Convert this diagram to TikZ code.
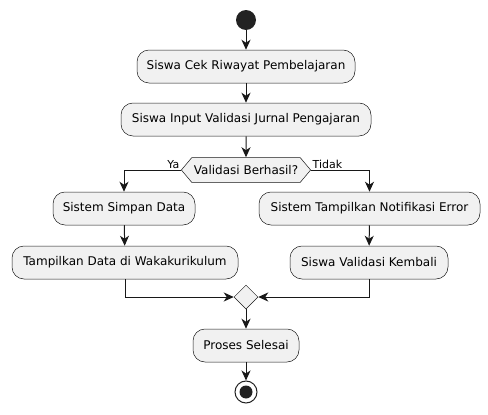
\documentclass[tikz,border=0pt]{standalone}
\usepackage{fontspec}
\setmainfont{DejaVu Sans}
\usetikzlibrary{arrows.meta, shapes.geometric, shapes.symbols}
\definecolor{boxfill}{HTML}{F1F1F1}
\definecolor{boxline}{HTML}{181818}
\definecolor{dotfill}{HTML}{222222}

\begin{document}
\begin{tikzpicture}[x=1pt, y=-1pt,
		act/.style={draw=boxline, fill=boxfill, rounded corners=12pt, line width=0.5pt,
			minimum height=33pt, inner xsep=0pt, font=\fontsize{12}{14}\selectfont},
		flow/.style={draw=boxline, line width=1pt, -{Stealth[length=10pt, width=9pt, inset=3pt]}},
		guard/.style={font=\fontsize{11}{13}\selectfont, inner sep=1.5pt}]
	\useasboundingbox (0,0) rectangle (488,415);
	% start and activities
	\node[circle, fill=dotfill, minimum size=20pt, inner sep=0pt] (start) at (246,20) {};
	\node[act, minimum width=218pt] (cek) at (246,66.5) {Siswa Cek Riwayat Pembelajaran};
	\node[act, minimum width=250pt] (input) at (246,119.5) {Siswa Input Validasi Jurnal Pengajaran};
	\node[signal, signal to=west and east, signal pointer angle=100, draw=boxline, fill=boxfill,
		line width=0.5pt, minimum width=120pt, minimum height=25pt, inner xsep=2pt,
		font=\fontsize{12}{14}\selectfont] (valid) at (246,170) {Validasi Berhasil?};
	% branches
	\node[act, minimum width=142pt] (simpan) at (124,208.5) {Sistem Simpan Data};
	\node[act, minimum width=226pt] (tampil) at (125,262.5) {Tampilkan Data di Wakakurikulum};
	\node[act, minimum width=221pt] (notif) at (369.5,208.5) {Sistem Tampilkan Notifikasi Error};
	\node[act, minimum width=158pt] (kembali) at (369,262.5) {Siswa Validasi Kembali};
	% merge and end
	\node[diamond, draw=boxline, fill=boxfill, line width=0.5pt, minimum size=24pt, inner sep=0pt] (merge) at (246,297) {};
	\node[act, minimum width=106pt] (selesai) at (246,345.5) {Proses Selesai};
	\node[circle, draw=dotfill, line width=1pt, minimum size=22pt, inner sep=0pt] (stop) at (246,392) {};
	\fill[dotfill] (stop.center) circle (6.5pt);

	\draw[flow] (start) -- (cek);
	\draw[flow] (cek) -- (input);
	\draw[flow] (input) -- (valid);
	\draw[flow] (valid.west) -| (simpan.north);
	\draw[flow] (valid.east) -| (notif.north);
	\node[guard, anchor=south east] (ya) at (valid.west) {Ya};
	\node[guard, anchor=south west] (tidak) at (valid.east) {Tidak};
	\draw[flow] (simpan) -- (tampil);
	\draw[flow] (notif) -- (kembali);
	\draw[flow] (tampil.south) |- (merge.west);
	\draw[flow] (kembali.south) |- (merge.east);
	\draw[flow] (merge) -- (selesai);
	\draw[flow] (selesai) -- (stop);
\end{tikzpicture}
\end{document}
